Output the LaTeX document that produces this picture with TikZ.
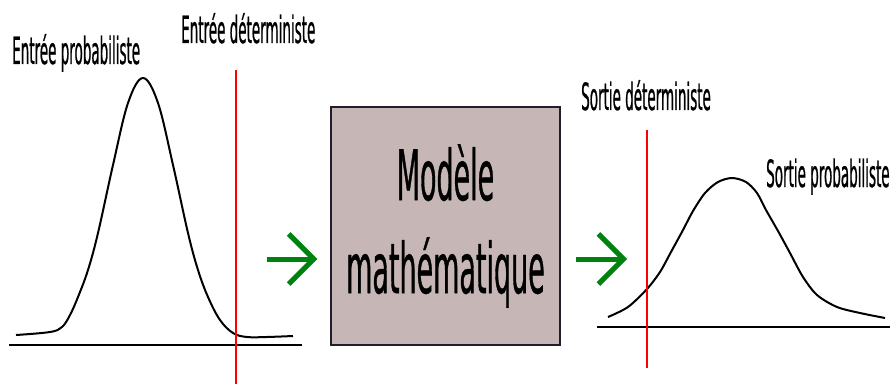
\documentclass[tikz,border=0pt]{standalone}
\usepackage{fontspec}
\newfontfamily\etroite[FakeStretch=0.36,FakeBold=0.6]{DejaVu Sans}
\newfontfamily\etroitebis[FakeStretch=0.385,FakeBold=0.5]{DejaVu Sans}
\usetikzlibrary{arrows.meta}
\definecolor{boite}{RGB}{198,183,182}
\definecolor{bord}{RGB}{30,30,45}
\definecolor{vert}{RGB}{0,130,15}
\tikzset{
  etiquette/.style={anchor=base west, inner sep=0pt, font=\etroite\fontsize{37.5}{37.5}\selectfont},
  courbe/.style={line width=2pt, line join=round},
  axe/.style={line width=2.5pt},
  seuil/.style={draw=red, line width=1.5pt},
  fleche/.style={draw=vert, line width=5pt, -{Straight Barb[length=25pt,width=50pt]}},
}

\begin{document}
\begin{tikzpicture}[x=1pt,y=-1pt]
\useasboundingbox (0,0) rectangle (892,385);
% Modele
\node[draw=bord, line width=1.5pt, fill=boite, minimum width=229pt, minimum height=238pt,
  align=center, font=\etroitebis\fontsize{70}{93}\selectfont] (modele) at (445.5,226) {Modèle\\mathématique};
% Etiquettes
\node[etiquette] (entreeProba) at (12,64) {Entrée probabiliste};
\node[etiquette] (entreeDet) at (181,43) {Entrée déterministe};
\node[etiquette] (sortieDet) at (581,110) {Sortie déterministe};
\node[etiquette] (sortieProba) at (766,187) {Sortie probabiliste};
% Entree probabiliste
\draw[axe] (9,345) -- (302,345);
\draw[courbe] plot[smooth, tension=0.6] coordinates {(16,335) (50,332) (62,327) (70,315) (78,297)
  (88,270) (98,233) (113,165) (128,103) (143,78) (158,103) (173,165) (188,233) (198,270) (208,297)
  (220,320) (233,333) (247,337) (267,337) (293,336)};
% Sortie probabiliste
\draw[axe] (597,327) -- (890,327);
\draw[courbe] plot[smooth, tension=0.5] coordinates {(608,317) (628,307) (647,289) (660,272)
  (671,252) (683,230) (693,211) (705,193) (718,182) (732,178) (746,182) (757,193) (766,210)
  (778,231) (790,253) (803,277) (817,295) (837,307) (860,313) (885,318)};
% Valeurs deterministes
\draw[seuil] (236,70) -- (236,384);
\draw[seuil] (647,130) -- (647,368);
% Fleches
\coordinate (depart) at (267,259);
\coordinate (arrivee) at (627,259);
\draw[fleche, shorten >=13pt] (depart) -- (depart -| modele.west);
\draw[fleche, shorten <=15pt] (modele.east |- arrivee) -- (arrivee);
\end{tikzpicture}
\end{document}
